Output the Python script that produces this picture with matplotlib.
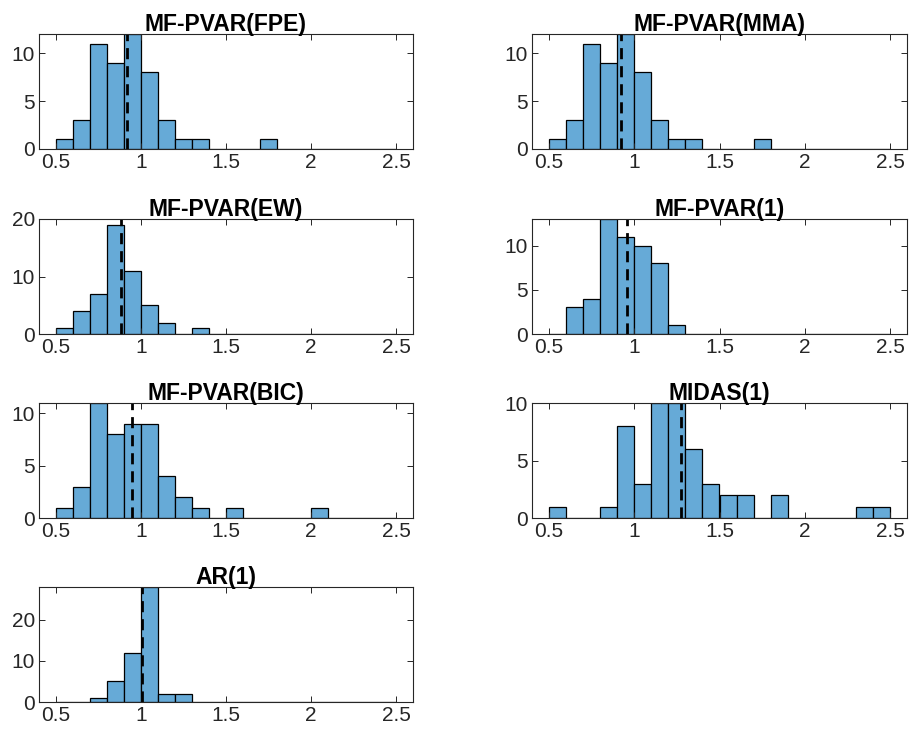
import numpy as np
import matplotlib
matplotlib.use("Agg")
import matplotlib.pyplot as plt

plt.rcParams['font.family'] = ['Liberation Sans', 'DejaVu Sans']

bin_edges = np.round(np.arange(0.5, 2.5001, 0.1), 2)

titles = ["MF-PVAR(FPE)", "MF-PVAR(MMA)", "MF-PVAR(EW)", "MF-PVAR(1)",
          "MF-PVAR(BIC)", "MIDAS(1)", "AR(1)"]

#            0.5 0.6 0.7 0.8 0.9 1.0 1.1 1.2 1.3 1.4 1.5 1.6 1.7 1.8 1.9 2.0 2.1 2.2 2.3 2.4
counts_fpe = [1, 3, 11, 9, 12, 8, 3, 1, 1, 0, 0, 0, 1, 0, 0, 0, 0, 0, 0, 0]
counts_mma = [1, 3, 11, 9, 12, 8, 3, 1, 1, 0, 0, 0, 1, 0, 0, 0, 0, 0, 0, 0]
counts_ew  = [1, 4, 7, 19, 11, 5, 2, 0, 1, 0, 0, 0, 0, 0, 0, 0, 0, 0, 0, 0]
counts_p1  = [0, 3, 4, 13, 11, 10, 8, 1, 0, 0, 0, 0, 0, 0, 0, 0, 0, 0, 0, 0]
counts_bic = [1, 3, 11, 8, 9, 9, 4, 2, 1, 0, 1, 0, 0, 0, 0, 1, 0, 0, 0, 0]
counts_midas = [1, 0, 0, 1, 8, 3, 10, 10, 6, 3, 2, 2, 0, 2, 0, 0, 0, 0, 1, 1]
counts_ar  = [0, 0, 1, 5, 12, 28, 2, 2, 0, 0, 0, 0, 0, 0, 0, 0, 0, 0, 0, 0]

means = [0.918, 0.92, 0.88, 0.955, 0.945, 1.272, 1.008]

yticks = [[0, 5, 10], [0, 5, 10], [0, 10, 20], [0, 5, 10],
          [0, 5, 10], [0, 5, 10], [0, 10, 20]]

all_counts = [counts_fpe, counts_mma, counts_ew, counts_p1,
              counts_bic, counts_midas, counts_ar]

fig = plt.figure(figsize=(9.1, 7.35), dpi=100)

W, H = 910, 735
col_left = [39, 532]
col_w = [374, 375]
row_top = [34, 219, 403, 587]
ax_h = 115

face = (0.4, 0.6682, 0.8446)
spine_c = '#262626'
centers = (bin_edges[:-1] + bin_edges[1:]) / 2

for i, (title, counts) in enumerate(zip(titles, all_counts)):
    r, c = divmod(i, 2)
    left = col_left[c] / W
    bottom = 1 - (row_top[r] + ax_h) / H
    ax = fig.add_axes([left, bottom, col_w[c] / W, ax_h / H])
    ax.hist(centers, bins=bin_edges, weights=counts, color=face,
            edgecolor='black', linewidth=0.9)
    ax.axvline(means[i], color='black', linestyle=(0, (4, 2.5)), linewidth=2)
    ax.set_xlim(0.4, 2.6)
    ax.set_ylim(0, max(counts))
    ax.set_xticks([0.5, 1, 1.5, 2, 2.5])
    ax.set_xticklabels(['0.5', '1', '1.5', '2', '2.5'])
    ax.set_yticks(yticks[i])
    ax.tick_params(direction='in', length=4, width=0.7, top=True, right=True,
                   labelsize=15, colors=spine_c, pad=3)
    for s in ax.spines.values():
        s.set_color(spine_c)
        s.set_linewidth(0.8)
    ax.set_title(title, fontsize=16.5, fontweight='bold', pad=2)

fig.savefig("out.png", dpi=100)
